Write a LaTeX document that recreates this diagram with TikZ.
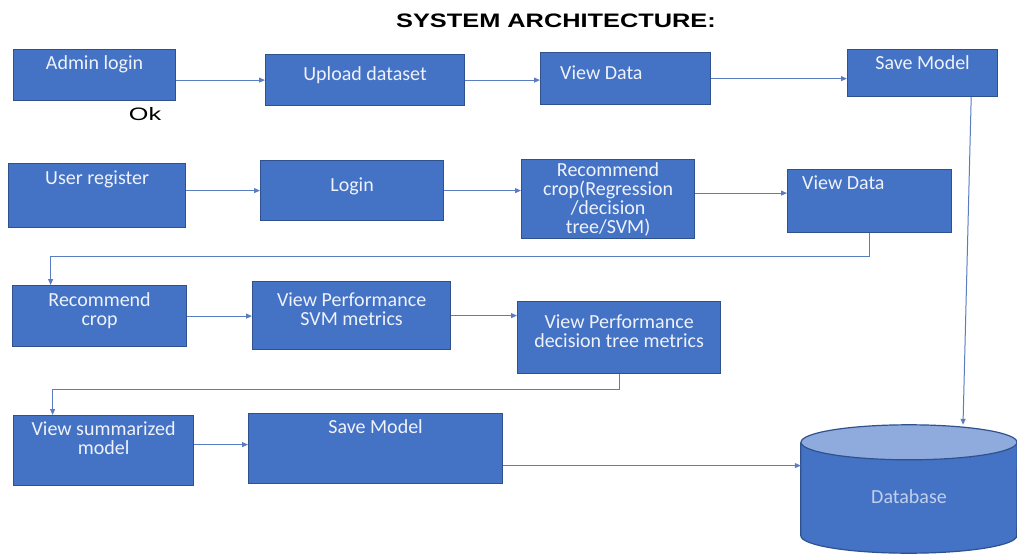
\documentclass[tikz,border=0pt]{standalone}
\usepackage{fontspec}
\setmainfont{Carlito}
\newfontfamily\arialfont{Liberation Sans}
\usetikzlibrary{arrows.meta, positioning}

\begin{document}
\begin{tikzpicture}[x=1pt, y=-1pt,
    box/.style={draw=borderColour, fill=fillColour, line width=1.2pt, inner sep=0pt, anchor=north west},
    boxtext/.style={text=textColour, inner sep=0pt, align=center, anchor=north,
        font=\fontsize{20}{19}\selectfont},
    conn/.style={draw=lineColour, line width=1pt, -{Triangle[length=6pt, width=5pt]}}]

    \definecolor{borderColour}{HTML}{2F528F}
    \definecolor{fillColour}{HTML}{4472C4}
    \definecolor{endColour}{HTML}{8FAADC}
    \definecolor{lineColour}{HTML}{5A7DC2}
    \definecolor{textColour}{HTML}{EEF2FA}

    % Fix the page size
    \useasboundingbox[fill=white] (0,0) rectangle (1017,556);

    % Title and the loose label
    \node[font=\arialfont\bfseries\fontsize{19.5}{20}\selectfont] (title) at (556,21) {\scalebox{1.3}[1]{SYSTEM ARCHITECTURE:}};
    \node[font=\arialfont\fontsize{18}{18}\selectfont] (ok) at (145,114) {\scalebox{1.4}[1]{Ok}};

    % Admin row
    \node[box, minimum width=162pt, minimum height=51pt] (admin) at (13,49) {};
    \node[boxtext, below=6.5pt of admin.north] (adminText) {Admin login};
    \node[box, minimum width=199pt, minimum height=51pt] (upload) at (265,54) {};
    \node[boxtext, below=12.5pt of upload.north] (uploadText) {Upload dataset};
    \node[box, minimum width=170pt, minimum height=52pt] (viewA) at (540,52) {};
    \node[boxtext, anchor=north west, below right=13.5pt and 20pt of viewA.north west] (viewAText) {View Data};
    \node[box, minimum width=150pt, minimum height=47pt] (saveA) at (847,49) {};
    \node[boxtext, below=6.5pt of saveA.north] (saveAText) {Save Model};

    % User row
    \node[box, minimum width=177pt, minimum height=64pt] (user) at (8,163) {};
    \node[boxtext, below=7.5pt of user.north] (userText) {User register};
    \node[box, minimum width=183pt, minimum height=60pt] (login) at (260,160) {};
    \node[boxtext, below=17.5pt of login.north] (loginText) {Login};
    \node[box, minimum width=173pt, minimum height=79pt] (recA) at (521,159) {};
    \node[boxtext, anchor=center] (recAText) at (recA.center) {Recommend\\crop(Regression\\/decision\\tree/SVM)};
    \node[box, minimum width=164pt, minimum height=63pt] (viewB) at (787,169) {};
    \node[boxtext, anchor=north west, below right=6.5pt and 15pt of viewB.north west] (viewBText) {View Data};

    % Performance row
    \node[box, minimum width=174pt, minimum height=61pt] (recB) at (12,285) {};
    \node[boxtext, below=7.5pt of recB.north] (recBText) {Recommend\\crop};
    \node[box, minimum width=198pt, minimum height=68pt] (svm) at (252,281) {};
    \node[boxtext, below=11.5pt of svm.north] (svmText) {View Performance\\SVM metrics};
    \node[box, minimum width=203pt, minimum height=72pt] (tree) at (517,301) {};
    \node[boxtext, below=13.5pt of tree.north] (treeText) {View Performance\\decision tree metrics};

    % Summary row
    \node[box, minimum width=180pt, minimum height=70pt] (summary) at (13,415) {};
    \node[boxtext, below=6.5pt of summary.north] (summaryText) {View summarized\\model};
    \node[box, minimum width=254pt, minimum height=70pt] (saveB) at (248,413) {};
    \node[boxtext, below=6.5pt of saveB.north] (saveBText) {Save Model};

    % Database drawn as a cylinder round an empty node
    \node[minimum width=216pt, minimum height=128pt, inner sep=0pt] (db) at (909,489) {};
    \filldraw[fill=fillColour, draw=borderColour, line width=1.2pt]
        ([yshift=-17.5pt]db.north west) -- ([yshift=17.5pt]db.south west)
        arc[start angle=180, end angle=360, x radius=108pt, y radius=17.5pt]
        -- ([yshift=-17.5pt]db.north east);
    \filldraw[fill=endColour, draw=borderColour, line width=1.2pt]
        ([yshift=-17.5pt]db.north) ellipse[x radius=108pt, y radius=17.5pt];
    \node[boxtext, anchor=center, text=endColour!55!white, yshift=-8pt] (dbText) at (db.center) {Database};

    % Connectors
    \draw[conn] (upload.west -| admin.east) -- (upload.west);
    \draw[conn] (upload.east) -- (upload.east -| viewA.west);
    \draw[conn] (viewA.east) -- (viewA.east -| saveA.west);
    \draw[conn] ([xshift=-27pt]saveA.south east) -- ([xshift=54pt]db.north);
    \draw[conn] (login.west -| user.east) -- (login.west);
    \draw[conn] (login.east) -- (login.east -| recA.west);
    \draw[conn] ([yshift=6pt]recA.east) -- ([yshift=6pt]recA.east -| viewB.west);
    \draw[conn] (viewB.south) -- ++(0,23) -| ([xshift=-49pt]recB.north);
    \draw[conn] (recB.east) -- (recB.east -| svm.west);
    \draw[conn] (svm.east) -- (svm.east -| tree.west);
    \draw[conn] (tree.south) -- ++(0,15) -| ([xshift=-51pt]summary.north);
    \draw[conn] ([yshift=6pt]summary.east) -- ([yshift=6pt]summary.east -| saveB.west);
    \draw[conn] ([yshift=-17pt]saveB.east) -- ([yshift=-17pt]saveB.east -| db.west);

\end{tikzpicture}
\end{document}
